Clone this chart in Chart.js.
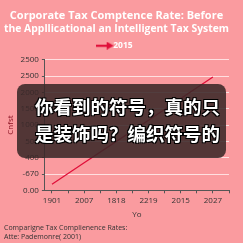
<!DOCTYPE html>
<html>
<head>
<meta charset="utf-8">
<script src="https://cdn.jsdelivr.net/npm/chart.js@4"></script>
<style>
  html, body { margin: 0; padding: 0; background: #fa9b9f; }
  #wrap { position: relative; width: 243px; height: 243px; }
  #overlay {
    position: absolute; left: 17px; top: 84px; width: 209px; height: 74px;
    background: rgba(58, 40, 40, 0.88); border-radius: 8px;
    box-sizing: border-box; padding: 9px 0 0 18px;
    font-family: "Noto Sans CJK SC", sans-serif; font-weight: bold;
    font-size: 18.5px; line-height: 27px; color: #fff; letter-spacing: 0;
    text-shadow: 1px 1px 0 #000, -1px -1px 0 #000, 1px -1px 0 #000, -1px 1px 0 #000;
    white-space: nowrap;
  }
</style>
</head>
<body>
<div id="wrap">
  <canvas id="chart" width="243" height="243"></canvas>
  <div id="overlay">你看到的符号，真的只<br>是装饰吗？编织符号的</div>
</div>
<script>
// chart data
const xLabels = ['1901', '2007', '1818', '2219', '2015', '2027'];
const yLabels = ['0.00', '-670', '400', '500', '1000', '1500', '2000', '2500', '2500'];
const seriesName = '2015';
const seriesValues = [0.37, 1.69, 3.0, 4.3, 5.63, 6.95];

// small arrow used as legend marker
const arrow = document.createElement('canvas');
arrow.width = 18; arrow.height = 8;
const actx = arrow.getContext('2d');
actx.fillStyle = '#e0103a';
actx.fillRect(0, 3, 13, 2.2);
actx.beginPath();
actx.moveTo(11, 0); actx.lineTo(18, 4); actx.lineTo(11, 8); actx.closePath();
actx.fill();

const font = "'Open Sans', 'DejaVu Sans', sans-serif";

new Chart(document.getElementById('chart'), {
    type: 'line',
    data: {
        datasets: [{
            label: seriesName,
            data: seriesValues.map((v, i) => ({ x: i, y: v })),
            borderColor: '#e0103a',
            borderWidth: 1.3,
            pointRadius: 0,
            pointStyle: arrow,
            fill: false,
            tension: 0,
        }],
    },
    options: {
        responsive: false,
        animation: false,
        layout: { padding: { left: 4, right: 14, top: 2, bottom: 0 } },
        plugins: {
            title: {
                display: true,
                text: ['Corporate Tax Comptence Rate: Before', 'the Appllicational an Intelligent Tax System'],
                color: '#ffffff',
                font: { family: font, size: 11, weight: 'bold', lineHeight: 1.2 },
                padding: { top: 7, bottom: 2 },
            },
            subtitle: {
                display: true,
                position: 'bottom',
                align: 'start',
                text: ['Comparigne Tax Complienence Rates:', 'Atte: Pademonre( 2001)'],
                color: '#333333',
                font: { family: font, size: 7, lineHeight: 1.25 },
                padding: { top: 3, bottom: 2 },
            },
            legend: {
                labels: {
                    usePointStyle: true,
                    color: '#ffffff',
                    font: { family: font, size: 8.5, weight: 'bold' },
                    padding: 4,
                },
            },
            tooltip: { enabled: false },
        },
        scales: {
            x: {
                type: 'linear',
                min: -0.22,
                max: 5.5,
                afterBuildTicks: (axis) => {
                    const t = [];
                    for (let i = 0; i <= 11; i++) t.push({ value: i * 0.5 });
                    axis.ticks = t;
                },
                ticks: {
                    autoSkip: false,
                    maxRotation: 0,
                    color: '#333333',
                    font: { family: font, size: 8 },
                    padding: 3,
                    callback: (v) => (Number.isInteger(v) ? xLabels[v] : ''),
                },
                grid: { display: true, drawOnChartArea: false, tickLength: 3, color: '#555555' },
                border: { color: '#555555' },
                title: { display: true, text: 'Yo', color: '#333333', font: { family: font, size: 8 }, padding: 1 },
            },
            y: {
                min: 0,
                max: 8,
                afterBuildTicks: (axis) => {
                    axis.ticks = yLabels.map((_, i) => ({ value: i }));
                },
                ticks: {
                    color: '#333333',
                    font: { family: font, size: 8 },
                    padding: 3,
                    callback: (v) => yLabels[v],
                },
                grid: {
                    color: (c) => (c.index === 0 ? 'rgba(0,0,0,0)' : 'rgba(255,235,235,0.85)'),
                    tickColor: '#555555',
                    tickLength: 3,
                },
                border: { color: '#555555' },
                title: { display: true, text: 'Cnfst', color: '#8a1020', font: { family: font, size: 8 }, padding: 2 },
            },
        },
    },
});
</script>
</body>
</html>
